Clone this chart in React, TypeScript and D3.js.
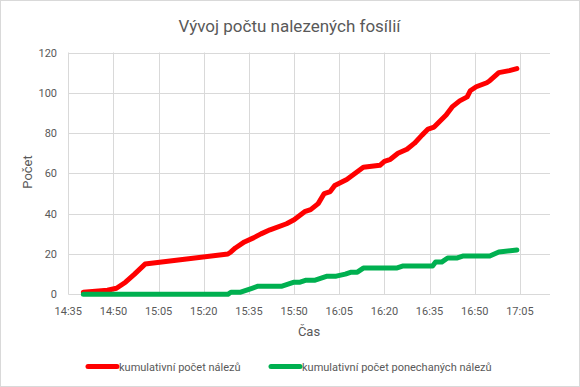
import React from "react";
import * as d3 from "d3";

const title = "Vývoj počtu nalezených fosílií";
const xTitle = "Čas";
const yTitle = "Počet";
const seriesNames = ["kumulativní počet nálezů", "kumulativní počet ponechaných nálezů"];
const seriesColors = ["#FF0000", "#00B050"];

const xTickLabels = ["14:35", "14:50", "15:05", "15:20", "15:35", "15:50", "16:05", "16:20", "16:35", "16:50", "17:05"];
const yTicks = [0, 20, 40, 60, 80, 100, 120];
const xDomain = ["14:35:00", "17:15:00"];

const redTimes = ["14:40:00", "14:48:00", "14:51:00", "14:54:00", "14:57:00", "15:00:30", "15:28:00", "15:29:00", "15:30:30", "15:33:30", "15:36:30", "15:39:00", "15:42:00", "15:47:30", "15:50:00", "15:53:30", "15:55:30", "15:58:00", "16:00:00", "16:02:00", "16:03:30", "16:07:30", "16:13:00", "16:18:30", "16:20:00", "16:22:00", "16:24:30", "16:27:30", "16:30:00", "16:32:30", "16:34:30", "16:36:30", "16:38:30", "16:40:30", "16:42:30", "16:45:00", "16:47:30", "16:48:30", "16:50:30", "16:54:00", "16:55:00", "16:58:00", "17:01:30", "17:04:00"];
const redValues = [1, 2, 3, 6, 10, 15, 20, 21, 23, 26, 28, 30, 32, 35, 37, 41, 42, 45, 50, 51, 54, 57, 63, 64, 66, 67, 70, 72, 75, 79, 82, 83, 86, 89, 93, 96, 98, 101, 103, 105, 106, 110, 111, 112];

const greenTimes = ["14:40:00", "15:28:00", "15:29:00", "15:32:00", "15:34:00", "15:36:00", "15:38:00", "15:46:00", "15:48:00", "15:50:00", "15:52:00", "15:54:00", "15:57:00", "15:59:00", "16:01:00", "16:04:00", "16:07:00", "16:09:00", "16:11:00", "16:13:00", "16:24:00", "16:26:00", "16:36:00", "16:37:00", "16:39:00", "16:41:00", "16:44:00", "16:46:00", "16:55:00", "16:58:00", "17:04:00"];
const greenValues = [0, 0, 1, 1, 2, 3, 4, 4, 5, 6, 6, 7, 7, 8, 9, 9, 10, 11, 11, 13, 13, 14, 14, 16, 16, 18, 18, 19, 19, 21, 22];

const W = 580;
const H = 387;
const FONT = "Roboto, 'Noto Sans', sans-serif";
const TXT = "#595959";
const GRID = "#d9d9d9";

export default function App() {
  const parse = d3.timeParse("%H:%M:%S");
  const parseHM = d3.timeParse("%H:%M");
  const x = d3
    .scaleTime()
    .domain(xDomain.map((s) => parse(s) as Date))
    .range([68.3, 550]);
  const y = d3.scaleLinear().domain([0, 120]).range([294.3, 52.5]);

  const series = [
    redTimes.map((t, i) => ({ t: parse(t) as Date, v: redValues[i] })),
    greenTimes.map((t, i) => ({ t: parse(t) as Date, v: greenValues[i] })),
  ];
  const line = d3
    .line<{ t: Date; v: number }>()
    .x((d) => x(d.t))
    .y((d) => y(d.v));

  const xt = xTickLabels.map((s) => ({ label: s, d: parseHM(s) as Date }));
  const [x0, x1] = x.range();

  const legendItems = [
    { lx: 88, tx: 119 },
    { lx: 271, tx: 302 },
  ];

  return (
    <svg
      width={W}
      height={H}
      style={{ position: "absolute", left: 0, top: 0, background: "#fff" }}
      fontFamily={FONT}
    >
      <rect x={0.5} y={0.5} width={W - 1} height={H - 1} fill="#fff" stroke={GRID} />
      <text x={289.5} y={32} textAnchor="middle" fontSize={17} fill={TXT}>
        {title}
      </text>
      {yTicks.map((v) => (
        <g key={"y" + v}>
          <line x1={x0} x2={x1} y1={Math.round(y(v)) + 0.5} y2={Math.round(y(v)) + 0.5} stroke={GRID} />
          <text x={57} y={y(v) + 4} textAnchor="end" fontSize={11} fill={TXT}>
            {v}
          </text>
        </g>
      ))}
      {xt.map((d) => (
        <g key={"x" + d.label}>
          <line x1={Math.round(x(d.d)) + 0.5} x2={Math.round(x(d.d)) + 0.5} y1={y(120)} y2={y(0)} stroke={GRID} />
          <text x={x(d.d)} y={314.5} textAnchor="middle" fontSize={11} fill={TXT}>
            {d.label}
          </text>
        </g>
      ))}
      <text x={309} y={336} textAnchor="middle" fontSize={13} fill={TXT}>
        {xTitle}
      </text>
      <text transform="translate(31.5,172) rotate(-90)" textAnchor="middle" fontSize={13} fill={TXT}>
        {yTitle}
      </text>
      {series.map((s, i) => (
        <path
          key={"s" + i}
          d={line(s) || ""}
          fill="none"
          stroke={seriesColors[i]}
          strokeWidth={5}
          strokeLinejoin="round"
          strokeLinecap="round"
        />
      ))}
      {legendItems.map((l, i) => (
        <g key={"l" + i}>
          <line x1={l.lx} x2={l.lx + 29} y1={366.5} y2={366.5} stroke={seriesColors[i]} strokeWidth={5} strokeLinecap="round" />
          <text x={l.tx} y={370.5} fontSize={11} fill={TXT}>
            {seriesNames[i]}
          </text>
        </g>
      ))}
    </svg>
  );
}
